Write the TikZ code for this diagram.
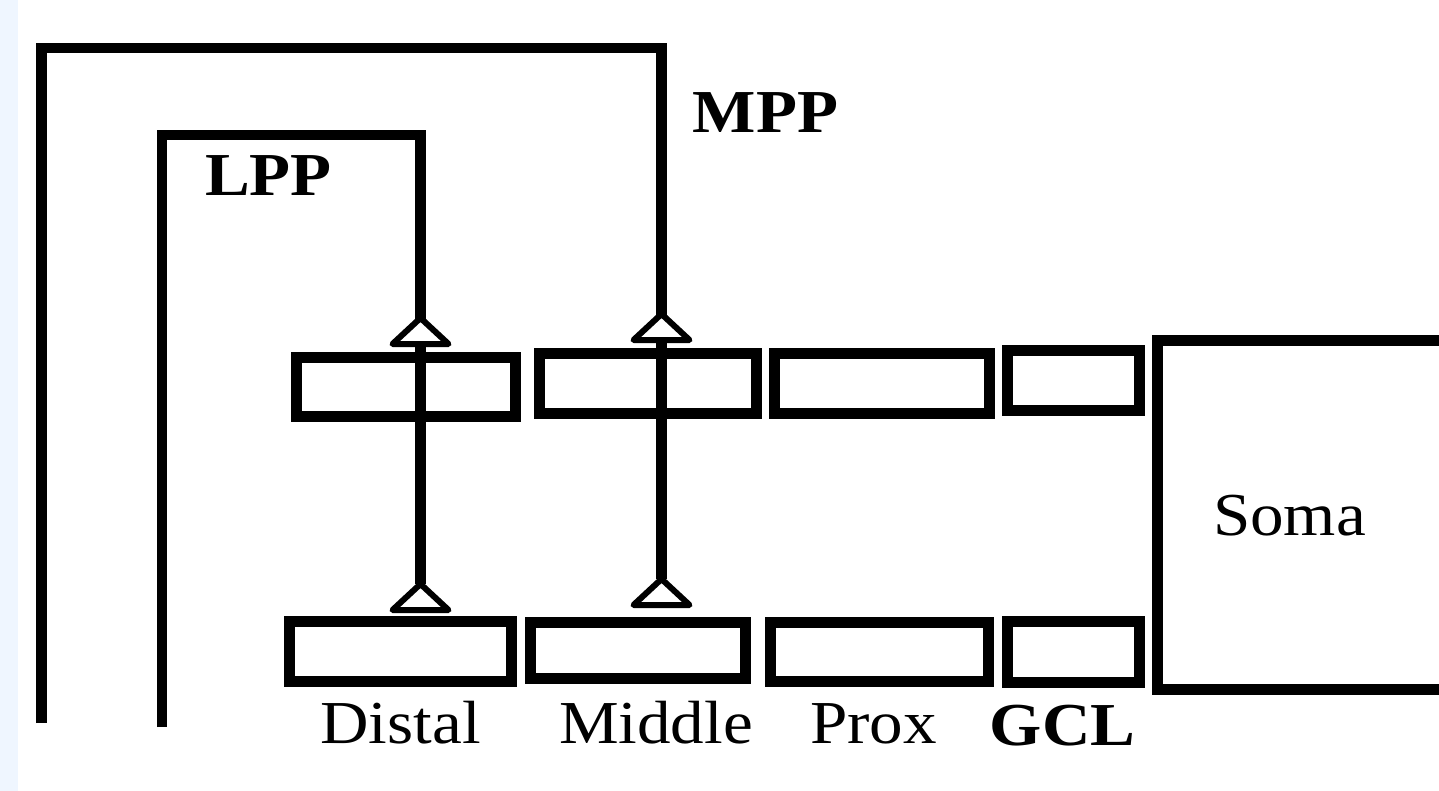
\documentclass[tikz,border=0pt]{standalone}
\usepackage{fontspec}
\setmainfont{Liberation Serif}[FakeStretch=1.1]
\usetikzlibrary{calc}
\definecolor{stripblue}{RGB}{239,246,255}
\tikzset{
  wire/.style={line width=10.5pt, line join=miter, line cap=butt},
  box/.style={draw, line width=11pt, rectangle, inner sep=0pt},
  syn/.style={draw, fill=white, line width=6pt, line join=round},
  lab/.style={inner sep=0pt, anchor=base, font=\fontsize{61}{70}\selectfont},
  blab/.style={lab, font=\fontsize{61}{70}\selectfont\bfseries},
}
\begin{document}
\begin{tikzpicture}[x=1pt,y=-1pt]
\useasboundingbox (0,0) rectangle (1439,791);
\clip (0,0) rectangle (1439,791);
\fill[white] (0,0) rectangle (1439,791);
\fill[stripblue] (0,0) rectangle (18,791);

% upper row of boxes
\node[box, minimum width=219pt, minimum height=59pt] (u1) at (406,387) {};
\node[box, minimum width=217pt, minimum height=60pt] (u2) at (648,383) {};
\node[box, minimum width=215pt, minimum height=60pt] (u3) at (881.5,383) {};
\node[box, minimum width=132pt, minimum height=60pt] (u4) at (1073,380) {};
% lower row of boxes
\node[box, minimum width=222pt, minimum height=60pt] (l1) at (400,651.5) {};
\node[box, minimum width=215pt, minimum height=56pt] (l2) at (637.5,650) {};
\node[box, minimum width=218pt, minimum height=59pt] (l3) at (879,651.5) {};
\node[box, minimum width=132pt, minimum height=61pt] (l4) at (1073,651.5) {};
% soma
\node[box, minimum width=300pt, minimum height=349pt] (soma) at (1307,514.5) {};

% fibre paths
\coordinate (lppfoot) at (162,727);
\coordinate (lppturn) at (162,135);
\coordinate (lppdown) at (420.5,135);
\coordinate (lppsyn1) at (420.5,344);
\coordinate (lppsyn2) at (420.5,610);
\coordinate (mppfoot) at (41.5,723);
\coordinate (mppturn) at (41.5,48);
\coordinate (mppdown) at (661.5,48);
\coordinate (mppsyn1) at (661.5,340);
\coordinate (mppsyn2) at (661.5,605);

\draw[wire] (lppfoot) -- (lppturn) -- (lppdown) -- ($(lppsyn2)+(0,-26)$);
\draw[wire] (mppfoot) -- (mppturn) -- (mppdown) -- ($(mppsyn2)+(0,-26)$);

% synapse triangles
\foreach \s in {lppsyn1,lppsyn2,mppsyn1,mppsyn2}{
  \draw[syn] ($(\s)+(-28,0)$) -- ($(\s)+(0,-26)$) -- ($(\s)+(28,0)$) -- cycle;
}
% the fibre continues through the upper boxes
\draw[line width=10.5pt] (lppsyn1) -- ($(lppsyn2)+(0,-26)$);
\draw[line width=10.5pt] (mppsyn1) -- ($(mppsyn2)+(0,-26)$);
\draw[line width=10.5pt] ($(lppsyn1)+(0,-26)$) -- ($(lppsyn1)+(0,-40)$);
\draw[line width=10.5pt] ($(mppsyn1)+(0,-26)$) -- ($(mppsyn1)+(0,-40)$);

% labels
\node[blab] (mpp) at (765.5,133) {MPP};
\node[blab] (lpp) at (268.5,196) {LPP};
\node[lab] (somalab) at (1289.5,535) {Soma};
\node[lab] (distal) at (400.5,743) {Distal};
\node[lab] (middle) at (656,743) {Middle};
\node[lab] (prox) at (873.5,743) {Prox};
\node[blab] (gcl) at (1062.5,745) {GCL};
\end{tikzpicture}
\end{document}
